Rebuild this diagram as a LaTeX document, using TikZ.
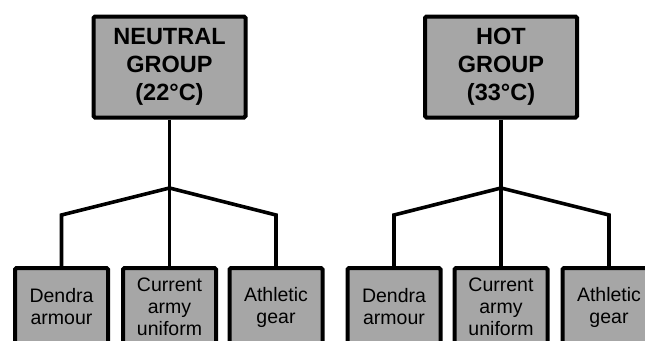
\documentclass[tikz,border=0pt]{standalone}
\usepackage{fontspec}
\setmainfont{Liberation Sans}
\definecolor{boxgray}{HTML}{A6A6A6}
\tikzset{
  groupbox/.style={draw=black, fill=boxgray, line width=4pt, rounded corners=1.5pt,
    minimum width=152pt, minimum height=101pt, inner sep=0pt, align=center,
    font=\fontsize{23.5}{28}\selectfont\bfseries},
  itembox/.style={draw=black, fill=boxgray, line width=4pt, rounded corners=1.5pt,
    minimum width=93pt, minimum height=78pt, inner sep=0pt, align=center,
    font=\fontsize{19.5}{22}\selectfont},
  link/.style={draw=black, line width=3.6pt, line join=miter}
}
\begin{document}
\begin{tikzpicture}[x=1pt,y=-1pt]
\useasboundingbox (0,0) rectangle (645,340);
\clip (0,0) rectangle (645,340);
\fill[white] (0,0) rectangle (645,340);
% Neutral group
\node[groupbox] (ng) at (169.5,67) {NEUTRAL\\GROUP\\(22°C)};
\coordinate (nj) at (169.5,188);
\node[itembox] (n1) at (61.5,307) {Dendra\\armour};
\node[itembox] (n2) at (169.5,307) {Current\\army\\uniform};
\node[itembox] (n3) at (276,307) {Athletic\\gear};
\coordinate (nl) at (61.5,215);
\coordinate (nr) at (276,215);
\draw[link] (ng.south) -- (nj) -- (n2.north);
\draw[link] (n1.north) -- (nl) -- (nj) -- (nr) -- (n3.north);
% Hot group
\node[groupbox] (hg) at (501,67) {HOT\\GROUP\\(33°C)};
\coordinate (hj) at (501,188);
\node[itembox] (h1) at (394,307) {Dendra\\armour};
\node[itembox] (h2) at (501,307) {Current\\army\\uniform};
\node[itembox] (h3) at (609,307) {Athletic\\gear};
\coordinate (hl) at (394,215);
\coordinate (hr) at (609,215);
\draw[link] (hg.south) -- (hj) -- (h2.north);
\draw[link] (h1.north) -- (hl) -- (hj) -- (hr) -- (h3.north);
\end{tikzpicture}
\end{document}
